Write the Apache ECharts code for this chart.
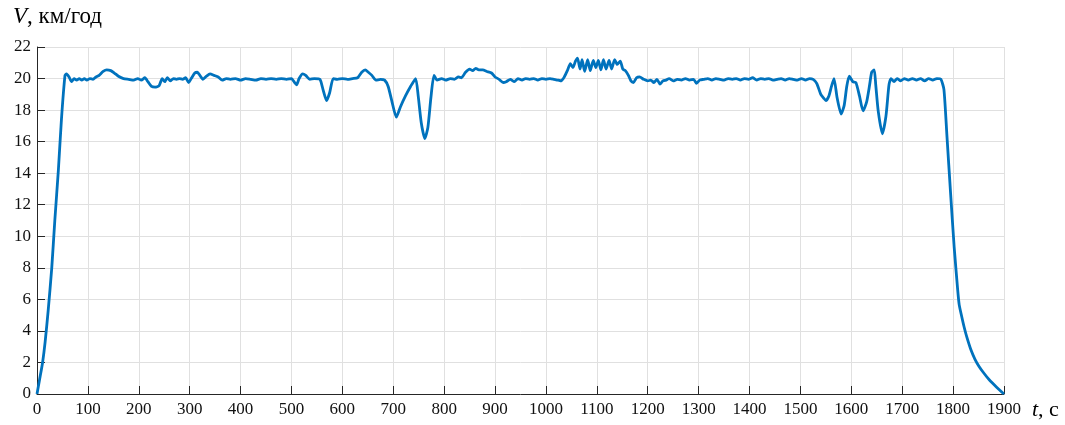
<!DOCTYPE html>
<html>
<head>
<meta charset="utf-8">
<title>V(t)</title>
<script src="https://cdn.jsdelivr.net/npm/echarts@6/dist/echarts.min.js"></script>
<style>
  html, body { margin: 0; padding: 0; background: #ffffff; }
  #chart { width: 1065px; height: 425px; }
</style>
</head>
<body>
<div id="chart"></div>
<script>
// Time, s
const times = [
  0, 5, 11, 16, 22, 29, 35, 42, 48, 55, 58, 63, 68, 73, 78, 83, 88, 93, 98, 104,
  110, 116, 122, 130, 137, 145, 152, 160, 170, 180, 190, 198, 205, 212, 218, 225, 232, 240, 246, 251,
  256, 262, 268, 274, 280, 286, 292, 298, 303, 310, 315, 320, 326, 333, 340, 348, 356, 364, 372, 380,
  390, 400, 410, 420, 430, 440, 450, 460, 470, 480, 490, 500, 506, 510, 515, 522, 528, 536, 545, 556,
  562, 569, 575, 582, 590, 600, 610, 620, 630, 638, 645, 651, 658, 666, 675, 683, 690, 697, 706, 714,
  724, 734, 744, 749, 755, 762, 768, 774, 780, 786, 795, 803, 812, 820, 828, 834, 842, 850, 856, 862,
  868, 876, 884, 893, 900, 908, 916, 922, 930, 938, 945, 953, 960, 968, 976, 984, 992, 1000, 1008, 1016,
  1024, 1030, 1036, 1042, 1048, 1053, 1058, 1062, 1067, 1071, 1076, 1082, 1087, 1093, 1098, 1103, 1108, 1113, 1118, 1124,
  1129, 1135, 1140, 1146, 1151, 1156, 1162, 1167, 1172, 1178, 1184, 1192, 1200, 1206, 1212, 1218, 1224, 1230, 1236, 1242,
  1250, 1258, 1266, 1274, 1282, 1290, 1296, 1302, 1310, 1318, 1326, 1334, 1342, 1350, 1358, 1366, 1374, 1382, 1390, 1398,
  1406, 1414, 1422, 1430, 1438, 1446, 1454, 1462, 1470, 1478, 1486, 1494, 1502, 1510, 1518, 1525, 1532, 1540, 1546, 1550,
  1556, 1561, 1566, 1572, 1580, 1586, 1591, 1596, 1603, 1609, 1616, 1623, 1630, 1636, 1640, 1645, 1648, 1653, 1661, 1668,
  1674, 1678, 1684, 1690, 1697, 1704, 1712, 1720, 1728, 1736, 1744, 1752, 1760, 1768, 1776, 1782, 1788, 1795, 1802, 1809,
  1812, 1817, 1822, 1827, 1835, 1843, 1851, 1861, 1871, 1885, 1900
];

// Speed, km/h
const speeds = [
  0, 0.9, 2.0, 3.3, 5.3, 8.0, 11.0, 14.2, 17.4, 20.2, 20.3, 20.1, 19.8, 20.0, 19.9, 20.0, 19.9, 20.0, 19.9, 20.0,
  19.95, 20.1, 20.2, 20.45, 20.55, 20.5, 20.35, 20.15, 20.0, 19.95, 19.9, 20.0, 19.9, 20.05, 19.8, 19.5, 19.45, 19.55, 20.0, 19.8,
  20.05, 19.85, 20.0, 19.95, 20.0, 19.95, 20.05, 19.75, 20.0, 20.35, 20.4, 20.2, 19.95, 20.15, 20.3, 20.2, 20.1, 19.9, 20.0, 19.95,
  20.0, 19.9, 20.0, 19.95, 19.9, 20.0, 19.95, 20.0, 19.95, 20.0, 19.95, 20.0, 19.75, 19.6, 20.0, 20.3, 20.2, 19.95, 20.0, 19.95,
  19.3, 18.6, 19.1, 20.0, 19.95, 20.0, 19.95, 20.0, 20.05, 20.4, 20.55, 20.4, 20.2, 19.9, 19.95, 19.9, 19.5, 18.6, 17.55, 18.2,
  18.9, 19.5, 20.0, 18.9, 17.2, 16.2, 16.9, 18.8, 20.2, 19.9, 20.0, 19.9, 20.0, 19.95, 20.1, 20.05, 20.4, 20.6, 20.5, 20.65,
  20.55, 20.55, 20.45, 20.35, 20.1, 19.95, 19.75, 19.8, 19.95, 19.8, 20.0, 19.9, 20.0, 19.95, 20.0, 19.9, 20.0, 19.95, 20.0, 19.95,
  19.9, 19.85, 20.1, 20.5, 20.95, 20.7, 21.1, 21.3, 20.6, 21.2, 20.45, 21.2, 20.5, 21.15, 20.7, 21.15, 20.55, 21.2, 20.6, 21.15,
  20.6, 21.2, 20.9, 21.1, 20.6, 20.5, 20.2, 19.85, 19.75, 20.05, 20.1, 19.95, 19.85, 19.9, 19.75, 19.95, 19.65, 19.85, 19.9, 20.0,
  19.85, 19.95, 19.9, 20.0, 19.9, 19.95, 19.7, 19.9, 19.95, 20.0, 19.9, 20.0, 19.95, 19.9, 20.0, 19.95, 20.0, 19.9, 20.0, 19.95,
  20.05, 19.9, 20.0, 19.95, 20.0, 19.9, 19.95, 20.0, 19.9, 20.0, 19.95, 19.9, 20.0, 19.9, 20.0, 19.95, 19.7, 19.0, 18.75, 18.6,
  18.9, 19.5, 20.0, 18.8, 17.75, 18.3, 19.5, 20.15, 19.8, 19.75, 18.9, 17.95, 18.5, 19.6, 20.4, 20.55, 19.6, 17.9, 16.5, 17.6,
  19.6, 20.0, 19.8, 20.0, 19.85, 20.0, 19.9, 20.0, 19.9, 20.0, 19.85, 20.0, 19.9, 20.0, 19.95, 19.3, 16.3, 12.75, 9.35, 6.6,
  5.65, 4.9, 4.2, 3.6, 2.8, 2.2, 1.75, 1.3, 0.9, 0.45, 0
];

// Axis ranges
const xRange = { min: 0, max: 1900, step: 100 };
const yRange = { min: 0, max: 22, step: 2 };

const serif = "'Liberation Serif', 'Times New Roman', serif";
const axisColor = '#262626';
const gridColor = '#e0e0e0';

const chart = echarts.init(document.getElementById('chart'), null, { renderer: 'canvas' });

function makeAxis(range, labelMargin) {
  return {
    type: 'value',
    min: range.min, max: range.max, interval: range.step,
    axisLine: { show: true, onZero: false, lineStyle: { color: axisColor, width: 1 } },
    axisTick: { show: true, inside: true, length: 8, lineStyle: { color: axisColor, width: 1 } },
    axisLabel: {
      color: '#111', fontSize: 17, fontFamily: serif, margin: labelMargin,
      formatter: (v) => String(v)
    },
    splitLine: { show: true, showMinLine: true, showMaxLine: true, lineStyle: { color: gridColor, width: 1 } }
  };
}

chart.setOption({
  animation: false,
  backgroundColor: '#ffffff',
  textStyle: { fontFamily: serif },
  grid: { left: 37, right: 61, top: 47, bottom: 31, containLabel: false },
  xAxis: makeAxis(xRange, 7),
  yAxis: makeAxis(yRange, 6),
  graphic: [
    {
      type: 'text', left: 13, top: 5,
      style: {
        text: '{i|V}{n|, км/год}',
        rich: {
          i: { fontFamily: serif, fontSize: 23, fontStyle: 'italic', fill: '#000' },
          n: { fontFamily: serif, fontSize: 23, fill: '#000' }
        }
      }
    },
    {
      type: 'text', left: 1032, top: 399,
      style: {
        text: '{i|t}{n|, с}',
        rich: {
          i: { fontFamily: serif, fontSize: 22, fontStyle: 'italic', fill: '#000' },
          n: { fontFamily: serif, fontSize: 22, fill: '#000' }
        }
      }
    }
  ],
  series: [{
    type: 'line',
    data: times.map((t, i) => [t, speeds[i]]),
    showSymbol: false,
    smooth: 0.2,
    lineStyle: { color: '#0072BD', width: 2.8 },
    clip: false
  }]
});
</script>
</body>
</html>
